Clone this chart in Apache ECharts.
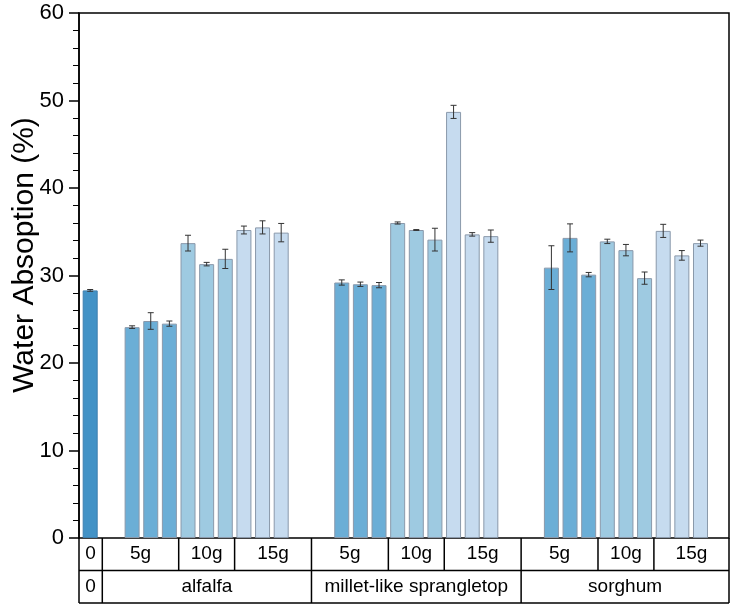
<!DOCTYPE html>
<html>
<head>
<meta charset="utf-8">
<script src="https://cdn.jsdelivr.net/npm/echarts@6/dist/echarts.min.js"></script>
<style>html,body{margin:0;padding:0;background:#fff}#c{width:739px;height:611px}</style>
</head>
<body>
<div id="c"></div>
<script>
// ---- data ----
const plants = ['alfalfa', 'millet-like sprangletop', 'sorghum'];
const doses = ['5g', '10g', '15g'];
const controlLabel = '0';
const controlValue = 28.3;
const controlError = 0.1;
const alfalfaValues = [24.1, 24.8, 24.5, 33.7, 31.3, 31.9, 35.2, 35.5, 34.9];
const alfalfaErrors = [0.15, 0.95, 0.3, 0.9, 0.2, 1.1, 0.45, 0.75, 1.05];
const milletValues = [29.2, 29.0, 28.9, 36.0, 35.2, 34.1, 48.7, 34.7, 34.5];
const milletErrors = [0.3, 0.25, 0.3, 0.12, 0.05, 1.3, 0.75, 0.2, 0.7];
const sorghumValues = [30.9, 34.3, 30.1, 33.9, 32.9, 29.7, 35.1, 32.3, 33.7];
const sorghumErrors = [2.5, 1.6, 0.25, 0.25, 0.65, 0.7, 0.75, 0.55, 0.35];
const yTicks = [0, 10, 20, 30, 40, 50, 60];
const yTitle = 'Water Absoption (%)';

const plantValues = [alfalfaValues, milletValues, sorghumValues];
const plantErrors = [alfalfaErrors, milletErrors, sorghumErrors];

// ---- layout (slot units) ----
const GAP_CONTROL = 2.25, GAP_PLANT = 3.25, REPS = 3;
const X_MIN = -0.6, X_MAX = 34.28, CONTROL_EDGE = 0.65;
const doseColors = ['#6baed6', '#9ecae1', '#c6dbef'];
const controlColor = '#4292c6';
const FONT = '"Liberation Sans", Arial, sans-serif';

const barData = [];
const errData = [];
barData.push({value: [0, controlValue], itemStyle: {color: controlColor, borderColor: '#3f7fae'}});
errData.push([0, controlValue, controlError]);
const plantStarts = [];
let s = GAP_CONTROL;
plants.forEach((p, i) => {
  plantStarts.push(s);
  plantValues[i].forEach((v, j) => {
    const x = s + j;
    const d = Math.floor(j / REPS);
    barData.push({value: [x, v], itemStyle: {color: doseColors[d]}});
    errData.push([x, v, plantErrors[i][j]]);
  });
  s += doses.length * REPS - 1 + GAP_PLANT;
});

const chart = echarts.init(document.getElementById('c'));
chart.setOption({
  animation: false,
  grid: {left: 79, right: 10, top: 13, bottom: 73, show: true, borderColor: '#000', borderWidth: 1.5, backgroundColor: 'transparent'},
  xAxis: {type: 'value', min: X_MIN, max: X_MAX, show: false},
  yAxis: {
    type: 'value', min: 0, max: 60, interval: 10, position: 'left',
    axisLine: {show: true, onZero: false, lineStyle: {color: '#000', width: 1.5}},
    axisTick: {show: true, inside: false, length: 10, lineStyle: {color: '#000', width: 1.5}},
    minorTick: {show: true, splitNumber: 5, length: 6, lineStyle: {color: '#000', width: 1}},
    splitLine: {show: false},
    axisLabel: {color: '#000', fontSize: 22, fontFamily: FONT, margin: 15,
      formatter: v => yTicks.includes(v) ? String(v) : ''}
  },
  series: [
    {type: 'bar', data: barData, barWidth: 15,
     itemStyle: {borderColor: '#8a99ab', borderWidth: 1}},
    {type: 'custom', data: errData, z: 5,
     renderItem: (params, api) => {
       const x = api.value(0), y = api.value(1), e = api.value(2);
       const top = api.coord([x, y + e]), bot = api.coord([x, y - e]);
       const cw = 3;
       const st = {stroke: '#333', lineWidth: 1};
       return {type: 'group', children: [
         {type: 'line', shape: {x1: top[0], y1: top[1], x2: bot[0], y2: bot[1]}, style: st},
         {type: 'line', shape: {x1: top[0] - cw, y1: top[1], x2: top[0] + cw, y2: top[1]}, style: st},
         {type: 'line', shape: {x1: bot[0] - cw, y1: bot[1], x2: bot[0] + cw, y2: bot[1]}, style: st}
       ]};
     }}
  ]
});

// ---- category table below the axis ----
const px = x => chart.convertToPixel({xAxisIndex: 0}, x);
const yTop = chart.convertToPixel({yAxisIndex: 0}, 0);
const rowH = 32.5;
const y1 = yTop + rowH, y2 = yTop + 2 * rowH;
const els = [];
const lineStyle = {stroke: '#000', lineWidth: 1.5};
const vline = (x, a, b) => els.push({type: 'line', shape: {x1: x, y1: a, x2: x, y2: b}, style: lineStyle});
const hline = (a, b, y) => els.push({type: 'line', shape: {x1: a, y1: y, x2: b, y2: y}, style: lineStyle});
const label = (t, a, b, yc) => els.push({type: 'text', x: (a + b) / 2, y: yc,
  style: {text: t, fill: '#000', font: '19px ' + FONT, textAlign: 'center', textVerticalAlign: 'middle'}});

const L = px(X_MIN), R = px(X_MAX), CE = px(CONTROL_EDGE);
hline(L, R, y1); hline(L, R, y2);
vline(L, yTop, y2); vline(R, yTop, y2); vline(CE, yTop, y2);
label(controlLabel, L, CE, (yTop + y1) / 2);
label(controlLabel, L, CE, (y1 + y2) / 2);
plants.forEach((p, i) => {
  const st = plantStarts[i];
  const last = st + doses.length * REPS - 1;
  const left = i === 0 ? CE : px(st - GAP_PLANT / 2);
  const right = i === plants.length - 1 ? R : px(last + GAP_PLANT / 2);
  const bounds = [left];
  for (let d = 1; d < doses.length; d++) bounds.push(px(st + d * REPS - 0.5));
  bounds.push(right);
  doses.forEach((dn, d) => {
    label(dn, bounds[d], bounds[d + 1], (yTop + y1) / 2);
    if (d > 0) vline(bounds[d], yTop, y1);
  });
  if (i < plants.length - 1) vline(right, yTop, y2);
  label(p, left, right, (y1 + y2) / 2);
});
els.push({type: 'text', x: 25, y: 255, rotation: Math.PI / 2,
  style: {text: yTitle, fill: '#000', font: '30px ' + FONT, textAlign: 'center', textVerticalAlign: 'middle'}});
chart.setOption({graphic: els});
</script>
</body>
</html>
